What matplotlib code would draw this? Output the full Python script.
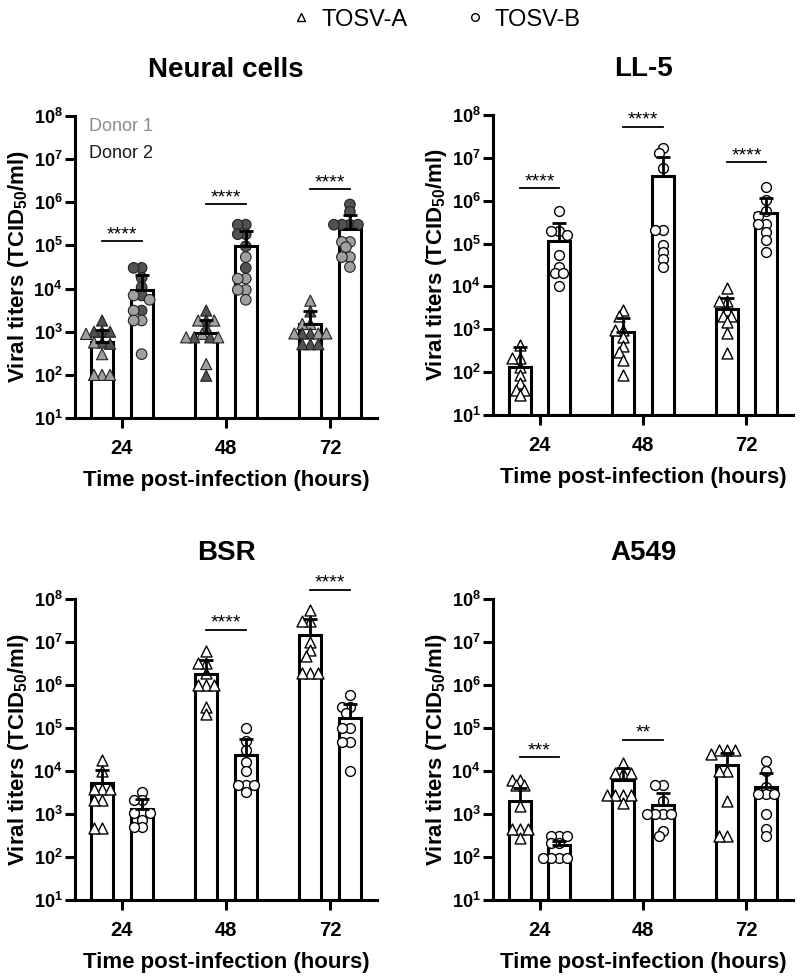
import numpy as np
import matplotlib
matplotlib.use("Agg")
import matplotlib.pyplot as plt
from matplotlib.lines import Line2D
from matplotlib.ticker import FixedLocator, FuncFormatter, NullLocator

plt.rcParams['font.family'] = ['Liberation Sans', 'DejaVu Sans']
plt.rcParams['mathtext.fontset'] = 'custom'
plt.rcParams['mathtext.rm'] = 'Liberation Sans'
plt.rcParams['mathtext.bf'] = 'Liberation Sans:bold'
plt.rcParams['mathtext.default'] = 'bf'

# all values are log10 titers (TCID50/ml)
hours = ['24', '48', '72']

# Neural cells (two donors)
neural_a_bar = [2.77, 2.97, 3.18]
neural_a_err = [3.05, 3.26, 3.49]
neural_b_bar = [3.97, 4.98, 5.37]
neural_b_err = [4.31, 5.33, 5.71]
neural_a_d1 = [[2.95, 2.75, 2.48, 2.0, 2.0, 2.0],
               [3.26, 3.26, 2.95, 2.87, 2.87, 2.25],
               [3.72, 3.18, 3.18, 2.96, 2.96, 2.96]]
neural_a_d2 = [[3.26, 3.0, 3.0, 3.0, 2.75, 2.72],
               [3.49, 3.26, 3.10, 2.87, 2.87, 1.98],
               [3.47, 2.96, 2.96, 2.71, 2.71, 2.71]]
neural_b_d1 = [[3.84, 3.74, 3.49, 3.26, 3.26, 2.48],
               [4.73, 4.23, 4.23, 3.97, 3.97, 3.74],
               [5.08, 5.08, 4.96, 4.73, 4.73, 4.50]]
neural_b_d2 = [[4.48, 4.48, 4.25, 4.03, 3.84, 3.49],
               [5.48, 5.48, 5.26, 5.26, 4.98, 4.48],
               [5.95, 5.78, 5.48, 5.48, 5.48, 5.48]]
neural_sig = [5.1, 5.95, 6.3]
neural_stars = ['****', '****', '****']

# LL-5
ll5_a_bar = [2.13, 2.93, 3.47]
ll5_a_err = [2.58, 3.26, 3.74]
ll5_b_bar = [5.05, 6.58, 5.71]
ll5_b_err = [5.48, 7.01, 6.06]
ll5_a = [[2.64, 2.33, 2.33, 2.13, 1.94, 1.74, 1.59, 1.59, 1.47],
         [3.45, 3.30, 2.99, 2.99, 2.83, 2.60, 2.47, 2.29, 1.94],
         [3.96, 3.65, 3.65, 3.45, 3.30, 3.30, 3.16, 2.91, 2.45]]
ll5_b = [[5.75, 5.30, 5.30, 5.20, 4.74, 4.46, 4.31, 4.31, 4.0],
         [7.24, 7.11, 6.76, 5.32, 5.32, 4.97, 4.81, 4.64, 4.46],
         [6.31, 6.02, 5.75, 5.64, 5.46, 5.46, 5.28, 5.09, 4.81]]
ll5_sig = [6.29, 7.73, 6.91]
ll5_stars = ['****', '****', '****']

# BSR
bsr_a_bar = [3.73, 6.26, 7.17]
bsr_a_err = [4.03, 6.59, 7.53]
bsr_b_bar = [3.12, 4.38, 5.23]
bsr_b_err = [3.35, 4.75, 5.56]
bsr_a = [[4.26, 3.99, 3.57, 3.57, 3.57, 3.33, 3.33, 2.67, 2.67],
         [6.78, 6.51, 6.51, 6.28, 6.01, 6.01, 6.01, 5.50, 5.33],
         [7.75, 7.48, 7.48, 7.01, 6.82, 6.67, 6.29, 6.29, 6.29]]
bsr_b = [[3.51, 3.33, 3.33, 3.02, 3.02, 3.02, 2.85, 2.69, 2.69],
         [5.0, 4.69, 4.50, 4.22, 3.99, 3.68, 3.68, 3.68, 3.51],
         [5.77, 5.50, 5.50, 5.35, 5.0, 5.0, 4.67, 4.67, 4.01]]
bsr_sig = [None, 7.29, 8.22]
bsr_stars = ['', '****', '****']

# A549
a549_a_bar = [3.30, 3.80, 4.14]
a549_a_err = [3.61, 4.07, 4.43]
a549_b_bar = [2.27, 3.22, 3.63]
a549_b_err = [2.38, 3.49, 3.96]
a549_a = [[3.80, 3.80, 3.67, 3.67, 3.18, 2.64, 2.64, 2.64, 2.44],
          [4.19, 3.96, 3.96, 3.96, 3.45, 3.45, 3.45, 3.45, 3.26],
          [4.5, 4.5, 4.5, 4.4, 4.0, 4.0, 3.3, 2.48, 2.48]]
a549_b = [[2.48, 2.48, 2.48, 2.32, 2.32, 1.97, 1.97, 1.97, 1.97],
          [3.67, 3.67, 3.30, 2.99, 2.99, 2.99, 2.99, 2.60, 2.48],
          [4.23, 4.0, 3.63, 3.47, 3.47, 3.47, 2.99, 2.64, 2.48]]
a549_sig = [4.32, 4.73, None]
a549_stars = ['***', '**', '']

OFF = 0.19
WIDTH = 0.21
PX_UNIT = 104.0
PX_DEC = 43.0
MSIZE = 10.0


def spread(vals):
    # simple beeswarm: shift points sideways, markers may overlap a little
    placed = []
    offs = []
    for v in vals:
        y = v * PX_DEC
        for k in (0, -1, 1, -2, 2, -3, 3, -4, 4, -5, 5):
            x = k * MSIZE * 0.4
            if all(np.hypot(x - px, y - py) >= MSIZE * 0.65 for px, py in placed):
                break
        placed.append((x, y))
        offs.append(x / PX_UNIT)
    return offs


def setup_axes(ax, title):
    ax.set_yscale('log')
    ax.set_ylim(10, 1e8)
    ax.set_xlim(-0.45, 2.45)
    ax.spines['top'].set_visible(False)
    ax.spines['right'].set_visible(False)
    for s in ('left', 'bottom'):
        ax.spines[s].set_linewidth(2.2)
    ax.yaxis.set_major_locator(FixedLocator([10.0 ** k for k in range(1, 9)]))
    ax.yaxis.set_minor_locator(NullLocator())
    ax.yaxis.set_major_formatter(FuncFormatter(lambda v, p: r'$10^{%d}$' % round(np.log10(v))))
    ax.set_xticks([0, 1, 2])
    ax.set_xticklabels(hours, fontsize=14.5, fontweight='bold')
    ax.tick_params(axis='y', length=7, width=2.2, labelsize=13, pad=2)
    ax.tick_params(axis='x', length=7, width=2.2, pad=8)
    ax.set_xlabel('Time post-infection (hours)', fontsize=16, fontweight='bold', labelpad=9)
    ax.set_ylabel(r'Viral titers (TCID$_{50}$/ml)', fontsize=16, fontweight='bold', labelpad=2)
    ax.set_title(title, fontsize=20, fontweight='bold', pad=28)


def draw_bars(ax, a_bar, a_err, b_bar, b_err):
    x = np.arange(3)
    for xs, bar, err in ((x - OFF, a_bar, a_err), (x + OFF, b_bar, b_err)):
        h = 10.0 ** np.array(bar)
        ax.bar(xs, h - 10, bottom=10, width=WIDTH, facecolor='white',
               edgecolor='black', linewidth=2.2, zorder=2)
        up = 10.0 ** np.array(err) - h
        ax.errorbar(xs, h, yerr=[np.zeros(3), up], fmt='none', ecolor='black',
                    elinewidth=2.0, capsize=5, capthick=2.0, zorder=5)


def draw_points(ax, groups, shift, marker, face):
    for i, vals in enumerate(groups):
        offs = spread(vals)
        ax.scatter(i + shift + np.array(offs), 10.0 ** np.array(vals), s=62 if marker == '^' else 50,
                   marker=marker, facecolor=face, edgecolor='black', linewidth=1.0, zorder=4)


def draw_sig(ax, levels, stars):
    for i, (lv, st) in enumerate(zip(levels, stars)):
        if lv is None:
            continue
        y = 10.0 ** lv
        ax.plot([i - OFF, i + OFF], [y, y], color='black', lw=1.3, clip_on=False, zorder=6)
        ax.text(i, y * 10 ** 0.04, st, ha='center', va='baseline', fontsize=14, clip_on=False)


fig = plt.figure(figsize=(8, 9.8), dpi=100)
ax1 = fig.add_axes([75 / 800, 1 - 418 / 980, 302 / 800, 302 / 980])
ax2 = fig.add_axes([493 / 800, 1 - 415 / 980, 300 / 800, 300 / 980])
ax3 = fig.add_axes([75 / 800, 1 - 900 / 980, 302 / 800, 301 / 980])
ax4 = fig.add_axes([493 / 800, 1 - 900 / 980, 300 / 800, 301 / 980])

# Neural cells
setup_axes(ax1, 'Neural cells')
draw_bars(ax1, neural_a_bar, neural_a_err, neural_b_bar, neural_b_err)
donor_cols = ['#a0a0a0', '#525252']
for groups, shift, marker in (((neural_a_d1, neural_a_d2), -OFF, '^'),
                              ((neural_b_d1, neural_b_d2), OFF, 'o')):
    for i in range(3):
        vals = groups[0][i] + groups[1][i]
        cols = [donor_cols[0]] * len(groups[0][i]) + [donor_cols[1]] * len(groups[1][i])
        order = np.argsort(vals, kind='stable')[::-1]
        vals_s = [vals[j] for j in order]
        cols_s = [cols[j] for j in order]
        offs = spread(vals_s)
        ax1.scatter(i + shift + np.array(offs), 10.0 ** np.array(vals_s), s=64 if marker == '^' else 58,
                    marker=marker, c=cols_s, edgecolor='#222222', linewidth=0.8, zorder=4)
draw_sig(ax1, neural_sig, neural_stars)
ax1.text(0.048, 0.964, 'Donor 1', color='#8c8c8c', fontsize=13, transform=ax1.transAxes, va='center')
ax1.text(0.048, 0.877, 'Donor 2', color='#1a1a1a', fontsize=13, transform=ax1.transAxes, va='center')

panels = [(ax2, 'LL-5', ll5_a_bar, ll5_a_err, ll5_b_bar, ll5_b_err, ll5_a, ll5_b, ll5_sig, ll5_stars),
          (ax3, 'BSR', bsr_a_bar, bsr_a_err, bsr_b_bar, bsr_b_err, bsr_a, bsr_b, bsr_sig, bsr_stars),
          (ax4, 'A549', a549_a_bar, a549_a_err, a549_b_bar, a549_b_err, a549_a, a549_b, a549_sig, a549_stars)]
for ax, title, ab, ae, bb, be, apts, bpts, sig, stars in panels:
    setup_axes(ax, title)
    draw_bars(ax, ab, ae, bb, be)
    draw_points(ax, apts, -OFF, '^', 'white')
    draw_points(ax, bpts, OFF, 'o', 'white')
    draw_sig(ax, sig, stars)

handles = [Line2D([], [], marker='^', ls='none', mfc='white', mec='black', mew=1.0, ms=5.5, label='TOSV-A'),
           Line2D([], [], marker='o', ls='none', mfc='white', mec='black', mew=1.0, ms=5.5, label='TOSV-B')]
fig.legend(handles=handles, loc='upper center', bbox_to_anchor=(0.544, 1.013), ncol=2, frameon=False,
           fontsize=17, columnspacing=2.34, handletextpad=0.35, handlelength=1.0)

fig.savefig('out.png', dpi=100)
